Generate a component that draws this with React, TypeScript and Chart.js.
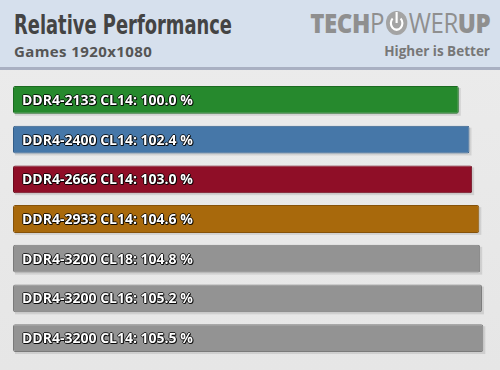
import React, { useEffect, useLayoutEffect, useRef } from "react";
import { Chart, registerables } from "chart.js";

Chart.register(...registerables);

const categories = [
  "DDR4-2133 CL14",
  "DDR4-2400 CL14",
  "DDR4-2666 CL14",
  "DDR4-2933 CL14",
  "DDR4-3200 CL18",
  "DDR4-3200 CL16",
  "DDR4-3200 CL14",
];
const values = [100.0, 102.4, 103.0, 104.6, 104.8, 105.2, 105.5];
const barColors = ["#26892d", "#4677a8", "#8f0e27", "#a8690c", "#939393", "#939393", "#939393"];
const barBorders = ["#1b6a21", "#335d88", "#6c0a1c", "#85520a", "#7a7a7a", "#7a7a7a", "#7a7a7a"];

const SCALE_MAX = 107;

function shade(hex: string, amt: number) {
  const n = parseInt(hex.slice(1), 16);
  let r = (n >> 16) & 255, g = (n >> 8) & 255, b = n & 255;
  r = Math.max(0, Math.min(255, Math.round(r + amt)));
  g = Math.max(0, Math.min(255, Math.round(g + amt)));
  b = Math.max(0, Math.min(255, Math.round(b + amt)));
  return `rgb(${r},${g},${b})`;
}

const labelPlugin = {
  id: "barLabels",
  afterDatasetsDraw(chart: any) {
    const ctx = chart.ctx;
    const meta = chart.getDatasetMeta(0);
    ctx.save();
    ctx.font = "bold 14px 'Open Sans', sans-serif";
    ctx.textBaseline = "middle";
    ctx.textAlign = "left";
    meta.data.forEach((el: any, i: number) => {
      const text = `${categories[i]}: ${values[i].toFixed(1)} %`;
      const x = el.base + 9;
      const y = el.y + 1;
      ctx.fillStyle = "rgba(0,0,0,0.75)";
      for (const [dx, dy] of [[1, 1], [-1, 0], [1, 0], [0, 1], [0, -1]]) {
        ctx.fillText(text, x + dx, y + dy);
      }
      ctx.fillStyle = "#ffffff";
      ctx.fillText(text, x, y);
    });
    ctx.restore();
  },
};

const shadowPlugin = {
  id: "barShadow",
  beforeDatasetsDraw(chart: any) {
    const ctx = chart.ctx;
    const meta = chart.getDatasetMeta(0);
    ctx.save();
    ctx.fillStyle = "rgba(0,0,0,0.10)";
    meta.data.forEach((el: any) => {
      const h = el.height;
      ctx.fillRect(el.base + 2, el.y - h / 2 + 2, el.x - el.base, h);
    });
    ctx.restore();
  },
};

function FitText(props: { width: number; align: "left" | "right"; style: any; children: any }) {
  const ref = useRef<HTMLDivElement | null>(null);
  useLayoutEffect(() => {
    const el = ref.current!;
    el.style.transform = "none";
    const w = el.getBoundingClientRect().width;
    if (w > 0) el.style.transform = `scaleX(${props.width / w})`;
  }, []);
  return (
    <div
      ref={ref}
      style={{
        ...props.style,
        display: "inline-flex",
        alignItems: "center",
        whiteSpace: "nowrap",
        transformOrigin: props.align === "left" ? "left center" : "right center",
      }}
    >
      {props.children}
    </div>
  );
}

export default function App() {
  const canvasRef = useRef<HTMLCanvasElement | null>(null);

  useEffect(() => {
    const canvas = canvasRef.current!;
    const ctx = canvas.getContext("2d")!;
    const chart = new Chart(ctx, {
      type: "bar",
      data: {
        labels: categories,
        datasets: [
          {
            data: values,
            backgroundColor: (c: any) => {
              const i = c.dataIndex;
              const el = c.element;
              if (!el || el.y === undefined || !el.height) return barColors[i];
              const h = el.height;
              const g = c.chart.ctx.createLinearGradient(0, el.y - h / 2, 0, el.y + h / 2);
              g.addColorStop(0, shade(barColors[i], 10));
              g.addColorStop(1, shade(barColors[i], -8));
              return g;
            },
            borderColor: barBorders,
            borderWidth: 1,
            borderSkipped: false,
            borderRadius: 2,
            barPercentage: 0.7,
            categoryPercentage: 1,
          },
        ],
      },
      options: {
        indexAxis: "y",
        animation: false,
        responsive: false,
        maintainAspectRatio: false,
        layout: { padding: { left: 13, right: 500 - 13 - SCALE_MAX * 4.458, top: 10, bottom: 12 } },
        plugins: {
          legend: { display: false },
          tooltip: { enabled: false },
          title: { display: false },
        },
        scales: {
          x: { display: false, min: 0, max: SCALE_MAX },
          y: { display: false },
        },
      },
      plugins: [shadowPlugin, labelPlugin],
    });
    return () => chart.destroy();
  }, []);

  return (
    <div
      style={{
        position: "fixed",
        left: 0,
        top: 0,
        width: 500,
        height: 370,
        background: "linear-gradient(#ececec, #e6e6e6)",
        overflow: "hidden",
      }}
    >
      <div
        style={{
          position: "absolute",
          left: 0,
          top: 0,
          width: 500,
          height: 67,
          background: "#d6e0ed",
          borderBottom: "3px solid #a9b0c2",
          boxSizing: "content-box",
        }}
      >
        <div style={{ position: "absolute", left: 14, top: 9 }}>
          <FitText
            width={218}
            align="left"
            style={{
              fontFamily: "'Liberation Sans Narrow', 'DejaVu Sans Condensed', sans-serif",
              fontWeight: "bold",
              fontSize: 27,
              lineHeight: "32px",
              color: "#444444",
            }}
          >
            Relative Performance
          </FitText>
        </div>
        <div
          style={{
            position: "absolute",
            left: 14,
            top: 41,
            fontFamily: "'Open Sans', sans-serif",
            fontWeight: "bold",
            fontSize: 15,
            letterSpacing: 0.4,
            color: "#555555",
            whiteSpace: "nowrap",
          }}
        >
          Games 1920x1080
        </div>
        <div style={{ position: "absolute", right: 10, top: 9 }}>
          <FitText
            width={180}
            align="right"
            style={{
              fontFamily: "'Open Sans', sans-serif",
              fontSize: 27,
              lineHeight: "28px",
              color: "#8f8f8f",
              letterSpacing: -0.5,
            }}
          >
            <span style={{ fontWeight: 800 }}>TECH</span>
            <span style={{ fontWeight: 400 }}>P</span>
            <svg width="26" height="26" viewBox="0 0 26 26" style={{ margin: "0 1px" }}>
              <circle cx="13" cy="13" r="12" fill="#a4a4a4" />
              <path d="M8.5 8.5 A6.5 6.5 0 1 0 17.5 8.5" fill="none" stroke="#ffffff" strokeWidth="2.4" />
              <line x1="13" y1="2" x2="13" y2="13" stroke="#ffffff" strokeWidth="2.4" />
            </svg>
            <span style={{ fontWeight: 400 }}>WER</span>
            <span style={{ fontWeight: 800 }}>UP</span>
          </FitText>
        </div>
        <div
          style={{
            position: "absolute",
            right: 10,
            top: 42,
            fontFamily: "'Open Sans', sans-serif",
            fontWeight: "bold",
            fontSize: 13.5,
            color: "#777777",
            whiteSpace: "nowrap",
          }}
        >
          Higher is Better
        </div>
      </div>
      <div style={{ position: "absolute", left: 0, top: 70, width: 500, height: 300 }}>
        <canvas ref={canvasRef} width={500} height={300} style={{ display: "block" }} />
      </div>
    </div>
  );
}
